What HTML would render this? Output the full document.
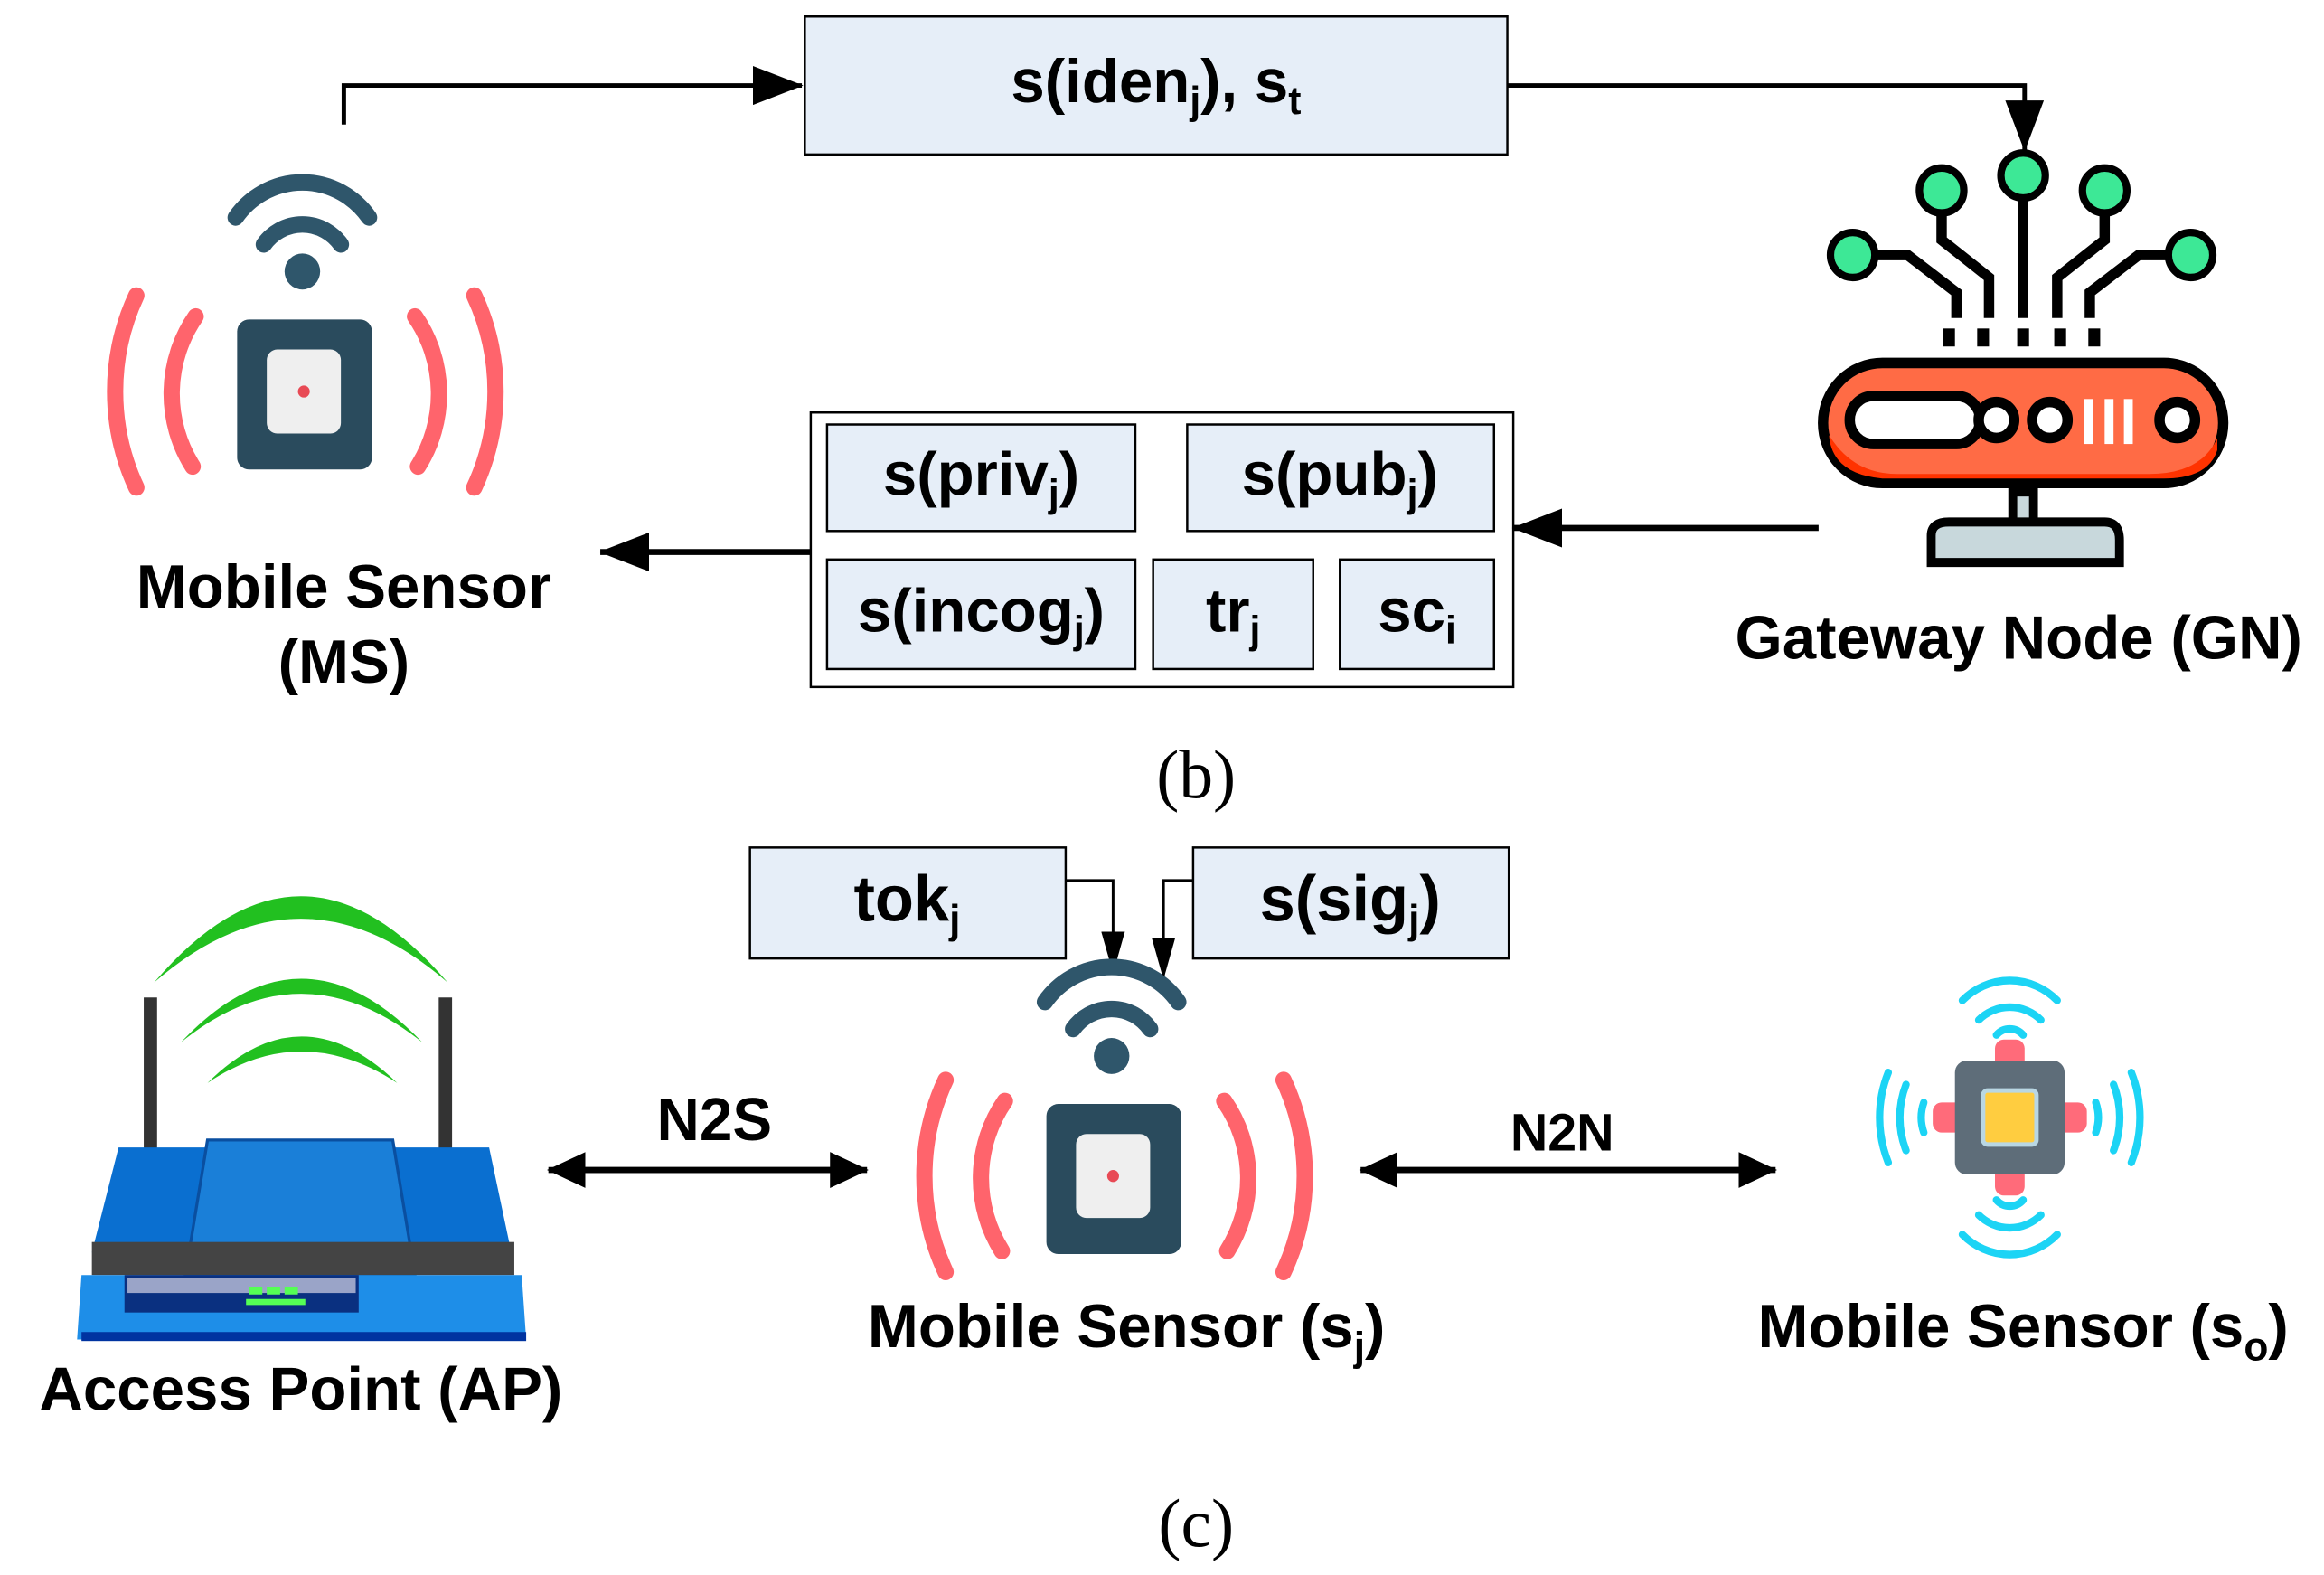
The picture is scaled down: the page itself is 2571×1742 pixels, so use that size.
<!DOCTYPE html>
<html><head><meta charset="utf-8"><style>
html,body{margin:0;padding:0;background:#fff;}
svg{display:block;}
text{font-family:"Liberation Sans",sans-serif;font-weight:bold;fill:#000;}
</style></head><body>
<svg width="2571" height="1742" viewBox="0 0 1568 1050" preserveAspectRatio="none" xmlns="http://www.w3.org/2000/svg">
<defs>
<marker id="ab" markerWidth="34" markerHeight="26" refX="33" refY="13" orient="auto" markerUnits="userSpaceOnUse" viewBox="0 0 34 26"><path d="M0,0 L34,13 L0,26 z" fill="#000"/></marker>
<marker id="am" markerWidth="26" markerHeight="24" refX="25" refY="12" orient="auto" markerUnits="userSpaceOnUse" viewBox="0 0 26 24"><path d="M0,0 L26,12 L0,24 z" fill="#000"/></marker>
<marker id="as" markerWidth="28" markerHeight="16" refX="27" refY="8" orient="auto" markerUnits="userSpaceOnUse" viewBox="0 0 28 16"><path d="M0,0 L28,8 L0,16 z" fill="#000"/></marker>
<g id="ms">
 <path d="M-45,-60 A55,55 0 0 1 45,-60" stroke="#2f566b" stroke-width="11" fill="none" stroke-linecap="round"/>
 <path d="M-26,-42 A32,32 0 0 1 26,-42" stroke="#2f566b" stroke-width="11" fill="none" stroke-linecap="round"/>
 <circle cx="0" cy="-24" r="12" fill="#2f566b"/>
 <rect x="-44" y="8" width="91" height="100" rx="8" fill="#2a4b5d"/>
 <rect x="-24" y="28" width="50" height="56" rx="7" fill="#efefef"/>
 <circle cx="1" cy="56" r="4" fill="#e84a55"/>
 <path d="M-72,6 A90,90 0 0 0 -74,106" stroke="#ff646c" stroke-width="11" fill="none" stroke-linecap="round"/>
 <path d="M-112,-8 A150,150 0 0 0 -112,120" stroke="#ff646c" stroke-width="11" fill="none" stroke-linecap="round"/>
 <path d="M76,6 A90,90 0 0 1 78,106" stroke="#ff646c" stroke-width="11" fill="none" stroke-linecap="round"/>
 <path d="M116,-8 A150,150 0 0 1 116,120" stroke="#ff646c" stroke-width="11" fill="none" stroke-linecap="round"/>
</g>
</defs>

<!-- (b) section -->
<rect x="543" y="11" width="474" height="92" fill="#e6eef8" stroke="#000" stroke-width="1.5"/>
<text x="780" y="68" font-size="41" text-anchor="middle">s(iden<tspan font-size="26" dy="8">j</tspan><tspan dy="-8">), s</tspan><tspan font-size="26" dy="8">t</tspan></text>
<polyline points="232,83 232,57 541,57" fill="none" stroke="#000" stroke-width="3" marker-end="url(#ab)"/>
<polyline points="1017,57 1366,57 1366,100" fill="none" stroke="#000" stroke-width="3" marker-end="url(#ab)"/>

<use href="#ms" x="204" y="205"/>

<text x="232" y="405" font-size="41" text-anchor="middle">Mobile Sensor</text>
<text x="232" y="455" font-size="41" text-anchor="middle">(MS)</text>

<rect x="547" y="275" width="474" height="183" fill="#fff" stroke="#000" stroke-width="1.5"/>
<rect x="558" y="283" width="208" height="71" fill="#e6eef8" stroke="#000" stroke-width="1.5"/>
<rect x="801" y="283" width="207" height="71" fill="#e6eef8" stroke="#000" stroke-width="1.5"/>
<rect x="558" y="373" width="208" height="73" fill="#e6eef8" stroke="#000" stroke-width="1.5"/>
<rect x="778" y="373" width="108" height="73" fill="#e6eef8" stroke="#000" stroke-width="1.5"/>
<rect x="904" y="373" width="104" height="73" fill="#e6eef8" stroke="#000" stroke-width="1.5"/>
<text x="662" y="330" font-size="41" text-anchor="middle">s(priv<tspan font-size="26" dy="8">j</tspan><tspan dy="-8">)</tspan></text>
<text x="904" y="330" font-size="41" text-anchor="middle">s(pub<tspan font-size="26" dy="8">j</tspan><tspan dy="-8">)</tspan></text>
<text x="662" y="421" font-size="41" text-anchor="middle">s(incog<tspan font-size="26" dy="8">j</tspan><tspan dy="-8">)</tspan></text>
<text x="832" y="421" font-size="41" text-anchor="middle">tr<tspan font-size="26" dy="8">j</tspan></text>
<text x="956" y="421" font-size="41" text-anchor="middle">sc<tspan font-size="26" dy="8">i</tspan></text>
<line x1="1227" y1="352" x2="1021" y2="352" stroke="#000" stroke-width="4" marker-end="url(#ab)"/>
<line x1="547" y1="368" x2="405" y2="368" stroke="#000" stroke-width="4" marker-end="url(#ab)"/>

<!-- gateway -->
<g stroke="#000" stroke-width="7" fill="none">
 <polyline points="1250,170 1287,170 1320,195 1320,212"/>
 <polyline points="1310,127 1310,160 1342,185 1342,212"/>
 <line x1="1365" y1="117" x2="1365" y2="212"/>
 <polyline points="1420,127 1420,160 1388,185 1388,212"/>
 <polyline points="1478,170 1443,170 1410,195 1410,212"/>
</g>
<g fill="#000"><rect x="1311" y="219" width="8" height="12"/><rect x="1334" y="219" width="8" height="12"/><rect x="1361" y="219" width="8" height="12"/><rect x="1386" y="219" width="8" height="12"/><rect x="1409" y="219" width="8" height="12"/></g>
<rect x="1230" y="242" width="270" height="80" rx="40" fill="#ff6b45" stroke="#000" stroke-width="7"/>
<path d="M1234,290 Q1250,316 1280,316 L1450,316 Q1485,316 1496,292 L1496,300 Q1490,319 1460,319 L1270,319 Q1236,316 1234,290z" fill="#ff3300"/>
<rect x="1248" y="264" width="88" height="32" rx="16" fill="#fff" stroke="#000" stroke-width="7"/>
<circle cx="1347" cy="280" r="12" fill="#fff" stroke="#000" stroke-width="7"/>
<circle cx="1383" cy="280" r="12" fill="#fff" stroke="#000" stroke-width="7"/>
<rect x="1406" y="266" width="6" height="30" fill="#fff"/><rect x="1420" y="266" width="6" height="30" fill="#fff"/><rect x="1433" y="266" width="6" height="30" fill="#fff"/>
<circle cx="1469" cy="280" r="12" fill="#fff" stroke="#000" stroke-width="7"/>
<rect x="1358" y="328" width="14" height="22" fill="#c8d8dc" stroke="#000" stroke-width="6"/>
<path d="M1303,375 L1303,357 Q1303,348 1315,348 L1420,348 Q1430,348 1430,360 L1430,375z" fill="#c8d8dc" stroke="#000" stroke-width="6"/>
<g stroke="#000" stroke-width="5" fill="#3de896">
 <circle cx="1250" cy="170" r="15"/><circle cx="1310" cy="127" r="15"/><circle cx="1365" cy="117" r="15"/><circle cx="1420" cy="127" r="15"/><circle cx="1478" cy="170" r="15"/>
</g>
<text x="1362" y="439" font-size="41" text-anchor="middle">Gateway Node (GN)</text>
<text x="807" y="532" font-size="46" text-anchor="middle" style="font-family:'Liberation Serif',serif;font-weight:normal">(b)</text>

<!-- (c) section -->
<rect x="506" y="565" width="213" height="74" fill="#e6eef8" stroke="#000" stroke-width="1.5"/>
<rect x="805" y="565" width="213" height="74" fill="#e6eef8" stroke="#000" stroke-width="1.5"/>
<text x="612" y="614" font-size="43" text-anchor="middle">tok<tspan font-size="27" dy="8">j</tspan></text>
<text x="911" y="614" font-size="43" text-anchor="middle">s(sig<tspan font-size="27" dy="8">j</tspan><tspan dy="-8">)</tspan></text>
<polyline points="719,587 751,587 751,648" fill="none" stroke="#000" stroke-width="1.8" marker-end="url(#as)"/>
<polyline points="805,587 785,587 785,652" fill="none" stroke="#000" stroke-width="1.8" marker-end="url(#as)"/>

<use href="#ms" x="750" y="728"/>

<text x="482" y="760" font-size="40" text-anchor="middle">N2S</text>
<line x1="390" y1="780" x2="585" y2="780" stroke="#000" stroke-width="4" marker-end="url(#am)"/>
<line x1="575" y1="780" x2="370" y2="780" stroke="#000" stroke-width="4" marker-end="url(#am)"/>
<text x="1054" y="767" font-size="35" text-anchor="middle">N2N</text>
<line x1="935" y1="780" x2="1198" y2="780" stroke="#000" stroke-width="4" marker-end="url(#am)"/>
<line x1="1185" y1="780" x2="918" y2="780" stroke="#000" stroke-width="4" marker-end="url(#am)"/>

<!-- sensor so -->
<g transform="translate(1356,745)">
 <rect x="-10" y="-52" width="20" height="104" rx="6" fill="#ff6b7a"/>
 <rect x="-52" y="-10" width="104" height="20" rx="6" fill="#ff6b7a"/>
 <rect x="-37" y="-38" width="74" height="76" rx="8" fill="#5e6d79"/>
 <rect x="-18" y="-18" width="36" height="36" rx="3" fill="#ffcd40" stroke="#b9d7e3" stroke-width="3"/>
 <g stroke="#1cd4f5" stroke-width="5" fill="none" stroke-linecap="round">
  <path d="M-32,-78 A45,45 0 0 1 32,-78"/><path d="M-21,-65 A30,30 0 0 1 21,-65"/><path d="M-9,-55 A12,12 0 0 1 9,-55"/>
  <path d="M-32,78 A45,45 0 0 0 32,78"/><path d="M-21,65 A30,30 0 0 0 21,65"/><path d="M-9,55 A12,12 0 0 0 9,55"/>
  <path d="M-82,-30 A80,80 0 0 0 -82,30"/><path d="M-70,-22 A60,60 0 0 0 -70,22"/><path d="M-58,-10 A30,30 0 0 0 -58,10"/>
  <path d="M82,-30 A80,80 0 0 1 82,30"/><path d="M70,-22 A60,60 0 0 1 70,22"/><path d="M58,-10 A30,30 0 0 1 58,10"/>
 </g>
</g>

<!-- access point -->
<g>
 <path d="M104,655 Q203,540 302,655 Q203,570 104,655z" fill="#22c020"/>
 <path d="M122,695 Q203,610 285,695 Q203,630 122,695z" fill="#22c020"/>
 <path d="M140,722 Q203,660 268,722 Q203,680 140,722z" fill="#22c020"/>
 <rect x="97" y="665" width="9" height="105" fill="#333"/>
 <rect x="296" y="665" width="9" height="105" fill="#333"/>
 <path d="M80,765 L330,765 L345,835 L62,835z" fill="#0a6fd0"/>
 <path d="M140,760 L265,760 L280,850 L125,850z" fill="#1a7fd8" stroke="#0a4fa0" stroke-width="2"/>
 <rect x="62" y="828" width="285" height="22" fill="#444"/>
 <path d="M55,850 L352,850 L355,893 L52,893z" fill="#1e8ee8"/>
 <rect x="84" y="850" width="158" height="25" fill="#0a3080"/>
 <rect x="86" y="852" width="154" height="10" fill="#9aa4c8"/>
 <rect x="168" y="858" width="9" height="5" fill="#5f5"/><rect x="180" y="858" width="9" height="5" fill="#5f5"/><rect x="192" y="858" width="9" height="5" fill="#5f5"/>
 <rect x="166" y="866" width="40" height="4" fill="#5f5"/>
 <rect x="55" y="888" width="300" height="6" fill="#0033a0"/>
</g>

<text x="760" y="898" font-size="41" text-anchor="middle">Mobile Sensor (s<tspan font-size="27" dy="9">j</tspan><tspan dy="-9">)</tspan></text>
<text x="1365" y="898" font-size="41" text-anchor="middle">Mobile Sensor (s<tspan font-size="27" dy="9">o</tspan><tspan dy="-9">)</tspan></text>
<text x="203" y="940" font-size="41" text-anchor="middle">Access Point (AP)</text>
<text x="807" y="1031" font-size="46" text-anchor="middle" style="font-family:'Liberation Serif',serif;font-weight:normal">(c)</text>
</svg>
</body></html>
